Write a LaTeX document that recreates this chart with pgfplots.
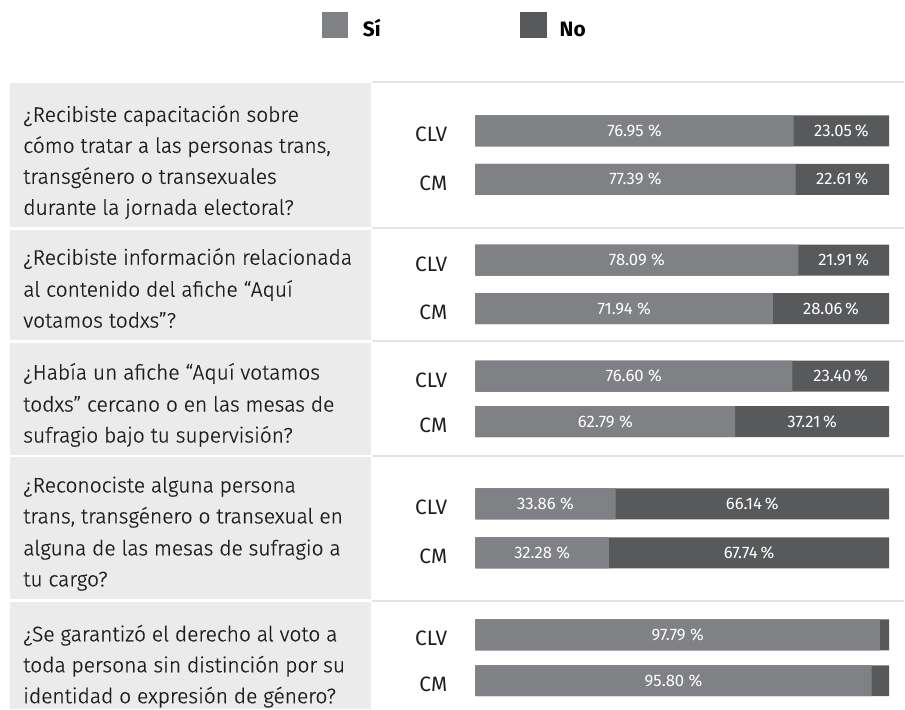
\documentclass[border=0pt]{standalone}
\usepackage{fontspec}
\setmainfont{Fira Sans}[UprightFont=* Light, UprightFeatures={FakeBold=0.6}, BoldFont=* Medium]
\newfontfamily\regfont{Fira Sans}
\usepackage{pgfplots}
\usepackage{pgfplotstable}
\pgfplotsset{compat=1.18}
\definecolor{sicol}{HTML}{808185}
\definecolor{nocol}{HTML}{58595B}
\definecolor{panel}{HTML}{EBEBEB}
\definecolor{sepline}{HTML}{E4E4E4}
\definecolor{txt}{HTML}{1E1E1E}

% y = vertical position of the bar (layout units), si / no = percentages
\pgfplotstableread{
y     si     no
131   76.95  23.05
179.5 77.39  22.61
260.5 78.09  21.91
309   71.94  28.06
376.5 76.60  23.40
422   62.79  37.21
504.5 33.86  66.14
553.5 32.28  67.74
635.5 97.79  2.21
681.5 95.80  4.20
}\datatab

\newcommand{\qline}[2]{\node[anchor=base west, inner sep=0pt, text=txt, font=\fontsize{12.6}{14}\selectfont] at (axis cs:-109.42,#1) {#2};}
\newcommand{\glabel}[2]{\node[anchor=base east, inner sep=0pt, text=txt, font=\regfont\fontsize{12.5}{14}\selectfont] at (axis cs:-6.76,#1) {#2};}

\begin{document}
\begin{tikzpicture}
\begin{axis}[
  width=543pt, height=426pt, scale only axis,
  xmin=-114.976, xmax=103.623, ymin=0, ymax=710, y dir=reverse,
  hide axis, clip=false,
  /pgf/number format/assume math mode=true,
]
\path (rel axis cs:0,0) rectangle (rel axis cs:1,1);
% panels
\fill[panel] (axis cs:-112.56,83) rectangle (axis cs:-25.36,227);
\fill[panel] (axis cs:-112.56,230) rectangle (axis cs:-25.36,340);
\fill[panel] (axis cs:-112.56,343) rectangle (axis cs:-25.36,455);
\fill[panel] (axis cs:-112.56,458) rectangle (axis cs:-25.36,600);
\fill[panel] (axis cs:-112.56,603) rectangle (axis cs:-25.36,710);
% separator lines
\foreach \yy in {82,228.5,341.5,456.5,601.5}{
  \edef\tmp{\noexpand\draw[sepline, line width=1.2pt] (axis cs:-25.12,\yy) -- (axis cs:103.62,\yy);}\tmp
}
% legend keys
\fill[sicol] (axis cs:-37.20,12) rectangle (axis cs:-30.92,38);
\node[anchor=base west, inner sep=0pt, font=\regfont\bfseries\fontsize{12.5}{14}\selectfont] at (axis cs:-27.29,37) {Sí};
\fill[nocol] (axis cs:10.87,12) rectangle (axis cs:17.39,38);
\node[anchor=base west, inner sep=0pt, font=\regfont\bfseries\fontsize{12.5}{14}\selectfont] at (axis cs:20.29,37) {No};

% bars: full (Sí + No) in dark, Sí on top
\addplot[xbar, bar width=31, bar shift=0pt, fill=nocol, draw=none]
  table[x expr=\thisrow{si}+\thisrow{no}, y=y] {\datatab};
\addplot[xbar, bar width=31, bar shift=0pt, fill=sicol, draw=none]
  table[x=si, y=y] {\datatab};

% value labels
\addplot[only marks, mark=*, mark size=0pt, scatter/use mapped color={draw=none, fill=none},
  point meta=explicit,
  nodes near coords={\pgfmathprintnumber[fixed, fixed zerofill, precision=2]{\pgfplotspointmeta}\ \%},
  every node near coord/.append style={anchor=center, text=white, font=\regfont\fontsize{10}{12}\selectfont}]
  table[x expr=\thisrow{si}/2, y=y, meta=si] {\datatab};
\addplot[only marks, mark=*, mark size=0pt, scatter/use mapped color={draw=none, fill=none},
  point meta=explicit,
  restrict expr to domain={\thisrow{no}}{5:100},
  nodes near coords={\pgfmathprintnumber[fixed, fixed zerofill, precision=2]{\pgfplotspointmeta}\,\%},
  every node near coord/.append style={anchor=center, text=white, font=\regfont\fontsize{10}{12}\selectfont}]
  table[x expr=\thisrow{si}+\thisrow{no}/2, y=y, meta=no] {\datatab};

% questions
\qline{122}{¿Recibiste capacitación sobre}
\qline{153}{cómo tratar a las personas trans,}
\qline{184}{transgénero o transexuales}
\qline{215}{durante la jornada electoral?}
\qline{265}{¿Recibiste información relacionada}
\qline{297}{al contenido del afiche “Aquí}
\qline{328}{votamos todxs”?}
\qline{380}{¿Había un afiche “Aquí votamos}
\qline{412}{todxs” cercano o en las mesas de}
\qline{443}{sufragio bajo tu supervisión?}
\qline{493}{¿Reconociste alguna persona}
\qline{524}{trans, transgénero o transexual en}
\qline{556}{alguna de las mesas de sufragio a}
\qline{587}{tu cargo?}
\qline{642}{¿Se garantizó el derecho al voto a}
\qline{673}{toda persona sin distinción por su}
\qline{704}{identidad o expresión de género?}

% group labels
\glabel{142}{CLV}
\glabel{190.5}{CM}
\glabel{271.5}{CLV}
\glabel{320}{CM}
\glabel{387.5}{CLV}
\glabel{433}{CM}
\glabel{515.5}{CLV}
\glabel{564.5}{CM}
\glabel{646.5}{CLV}
\glabel{692.5}{CM}
\end{axis}
\end{tikzpicture}
\end{document}
